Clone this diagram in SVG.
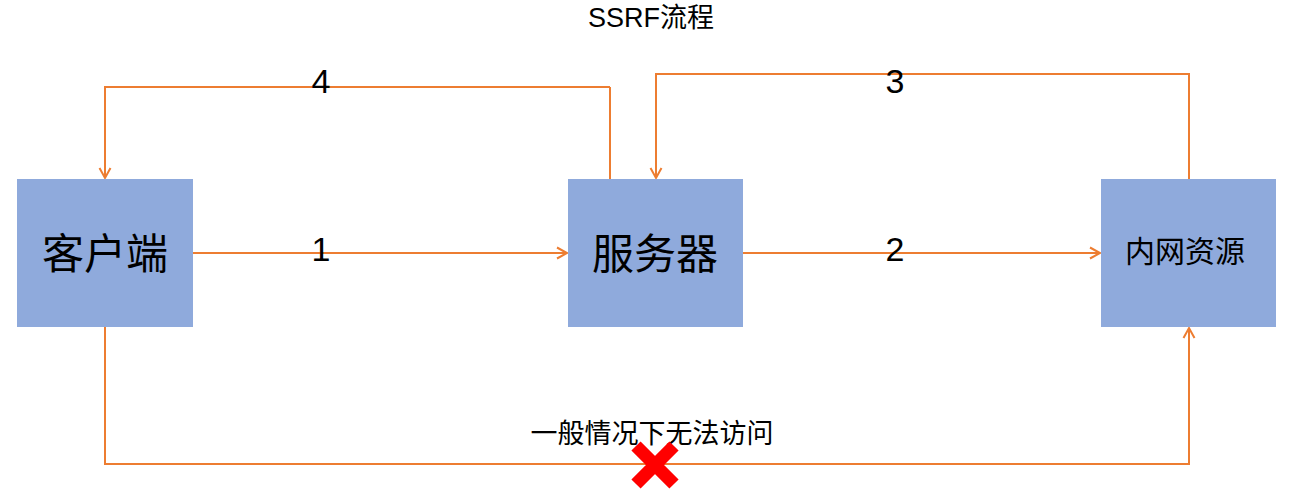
<svg xmlns="http://www.w3.org/2000/svg" width="1312" height="495" viewBox="0 0 1312 495">
<style>
.box{fill:#8FAADC}
.lbl{font-family:"Liberation Sans","Noto Sans CJK SC",sans-serif;fill:#000;text-anchor:middle}
.conn{fill:none;stroke:#ED7D31;stroke-width:2}
.num{font-family:"Liberation Sans",sans-serif;font-size:34px;fill:#000;text-anchor:middle}
</style>
<defs>
<marker id="arr" markerUnits="userSpaceOnUse" markerWidth="14" markerHeight="14" refX="11" refY="6" orient="auto" viewBox="0 0 14 12">
<path d="M1,0.5 L11,6 L1,11.5" fill="none" stroke="#ED7D31" stroke-width="2"/>
</marker>
</defs>
<rect width="1312" height="495" fill="#fff"/>
<text class="lbl" x="651" y="27" font-size="27">SSRF流程</text>
<g id="connectors">
<path class="conn" d="M193,253 H567" marker-end="url(#arr)"/>
<path class="conn" d="M743,253 H1100" marker-end="url(#arr)"/>
<path class="conn" d="M1189,179 V74 H656 V178" marker-end="url(#arr)"/>
<path class="conn" d="M610,179 V87" stroke-width="1"/>
<path class="conn" d="M610,87 H105 V178" marker-end="url(#arr)"/>
<path class="conn" d="M105,327 V464 H1189 V328" marker-end="url(#arr)"/>
<text class="num" x="321" y="93">4</text>
<text class="num" x="895" y="93">3</text>
<text class="num" x="321" y="261">1</text>
<text class="num" x="895" y="261">2</text>
<text class="lbl" x="652" y="443" font-size="27">一般情况下无法访问</text>
<path d="M636,446 L674,484 M674,446 L636,484" stroke="#FF0000" stroke-width="13" fill="none"/>
</g>
<g id="client">
<rect class="box" x="17" y="179" width="176" height="148"/>
<text class="lbl" x="105" y="269" font-size="42">客户端</text>
</g>
<g id="server">
<rect class="box" x="568" y="179" width="175" height="148"/>
<text class="lbl" x="655" y="269" font-size="42">服务器</text>
</g>
<g id="intranet">
<rect class="box" x="1101" y="179" width="175" height="148"/>
<text class="lbl" x="1185" y="262" font-size="30">内网资源</text>
</g>
</svg>
